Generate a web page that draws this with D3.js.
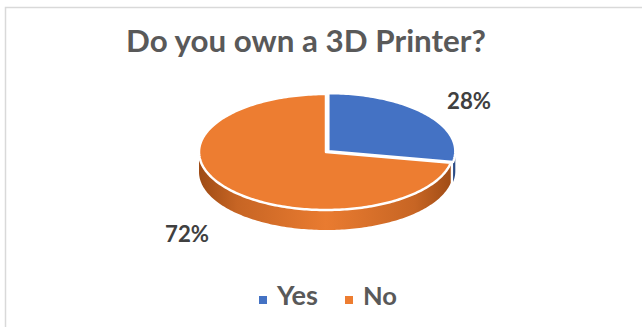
<!DOCTYPE html>
<html>
<head>
<meta charset="utf-8">
<script src="https://cdn.jsdelivr.net/npm/d3@7"></script>
<style>
  html, body { margin: 0; padding: 0; background: #fff; }
  svg { display: block; }
  text { font-family: Lato, "Open Sans", sans-serif; font-weight: bold; }
</style>
</head>
<body>
<script>
// ---- data ----
const categories = ["Yes", "No"];
const values = [28, 72];
const labels = ["28%", "72%"];
const colors = ["#4472c4", "#ed7d31"];
const title = "Do you own a 3D Printer?";

const W = 642, H = 327;
const svg = d3.select("body").append("svg").attr("width", W).attr("height", H);

// frame
svg.append("path")
  .attr("d", `M5.5,${H} L5.5,7.5 L${W},7.5`)
  .attr("fill", "none").attr("stroke", "#d9d9d9").attr("stroke-width", 1.5);

// helper: scale font size so text spans the target width
function fit(sel, target) {
  const fs = parseFloat(sel.attr("font-size"));
  const w = sel.node().getComputedTextLength();
  sel.attr("font-size", (fs * target / w).toFixed(2));
}

// title
const t = svg.append("text").attr("x", 306).attr("y", 52)
  .attr("text-anchor", "middle").attr("font-size", 28).attr("fill", "#595959").text(title);
fit(t, 360);

// ---- 3D pie ----
const cx = 326, cy = 152, rx = 127, ry = 58, depth = 20;
const pie = d3.pie().sort(null).value(d => d);
const arcs = pie(values);

const px = a => rx * Math.sin(a);
const py = a => -ry * Math.cos(a);

function samples(a0, a1) {
  const n = Math.max(2, Math.ceil(Math.abs(a1 - a0) / 0.02));
  return d3.range(n + 1).map(i => a0 + (a1 - a0) * i / n);
}
const line = d3.line();

const defs = svg.append("defs");
function sideGrad(id, dark, mid) {
  const g = defs.append("linearGradient").attr("id", id)
    .attr("gradientUnits", "userSpaceOnUse")
    .attr("x1", -rx).attr("x2", rx).attr("y1", 0).attr("y2", 0);
  g.append("stop").attr("offset", "0").attr("stop-color", dark);
  g.append("stop").attr("offset", "0.15").attr("stop-color", d3.interpolateRgb(dark, mid)(0.55));
  g.append("stop").attr("offset", "0.5").attr("stop-color", mid);
  g.append("stop").attr("offset", "0.85").attr("stop-color", d3.interpolateRgb(dark, mid)(0.55));
  g.append("stop").attr("offset", "1").attr("stop-color", dark);
}
sideGrad("side0", "#2c4c86", "#4472c4");
sideGrad("side1", "#9e4b15", "#e97b30");

// explode offset for the small slice
const explode = [3, 0];

const g = svg.append("g").attr("transform", `translate(${cx},${cy})`);

// sides (front half only: pi/2 .. 3pi/2)
arcs.forEach((d, i) => {
  const a0 = Math.max(d.startAngle, Math.PI / 2);
  const a1 = Math.min(d.endAngle, 3 * Math.PI / 2);
  if (a1 <= a0) return;
  const mid = (d.startAngle + d.endAngle) / 2;
  const ox = explode[i] * Math.sin(mid), oy = -explode[i] * Math.cos(mid) * ry / rx;
  const top = samples(a0, a1).map(a => [px(a) + ox, py(a) + oy]);
  const bot = samples(a1, a0).map(a => [px(a) + ox, py(a) + oy + depth]);
  g.append("path")
    .attr("d", line(top.concat(bot)) + "Z")
    .attr("fill", `url(#side${i})`)
    .attr("stroke", "none");
});

// top faces
arcs.forEach((d, i) => {
  const mid = (d.startAngle + d.endAngle) / 2;
  const ox = explode[i] * Math.sin(mid), oy = -explode[i] * Math.cos(mid) * ry / rx;
  const pts = [[ox, oy]].concat(samples(d.startAngle, d.endAngle).map(a => [px(a) + ox, py(a) + oy]));
  g.append("path")
    .attr("d", line(pts) + "Z")
    .attr("fill", colors[i])
    .attr("stroke", "#fff").attr("stroke-width", 2.5).attr("stroke-linejoin", "round");
});

// data labels
const labelPos = [[469, 109], [187, 242]];
labels.forEach((l, i) => {
  const tt = svg.append("text").attr("x", labelPos[i][0]).attr("y", labelPos[i][1])
    .attr("text-anchor", "middle").attr("font-size", 22).attr("fill", "#404040").text(l);
  fit(tt, 44);
});

// legend
const legX = [259, 345], legTextW = [41, 34];
categories.forEach((c, i) => {
  svg.append("rect").attr("x", legX[i]).attr("y", 296).attr("width", 8).attr("height", 8).attr("fill", colors[i]);
  const tt = svg.append("text").attr("x", legX[i] + 18).attr("y", 305)
    .attr("font-size", 25).attr("fill", "#595959").text(c);
  fit(tt, legTextW[i]);
});
</script>
</body>
</html>
